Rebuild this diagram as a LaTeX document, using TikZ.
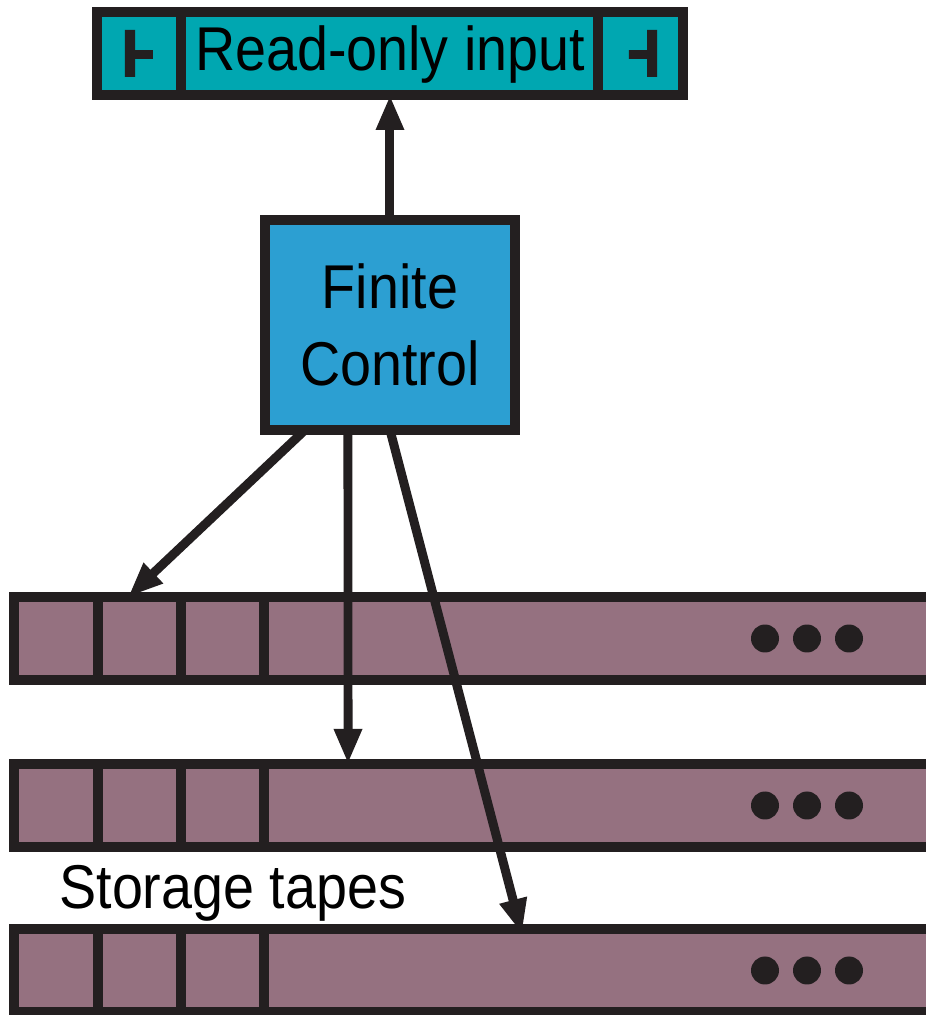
\documentclass[tikz,border=0pt]{standalone}
\usepackage{fontspec}
\setmainfont{Liberation Sans}[FakeStretch=0.9]
\usetikzlibrary{arrows.meta,calc}

\definecolor{inkblack}{HTML}{231F20}
\definecolor{inputteal}{HTML}{00A7B1}
\definecolor{controlblue}{HTML}{2C9FD2}
\definecolor{tapemauve}{HTML}{957180}

\tikzset{
    box/.style={draw=inkblack,line width=0.1cm,inner sep=0pt,outer sep=0pt},
    tapebox/.style={box,fill=tapemauve,minimum width=9.26cm,minimum height=0.83cm},
    cellline/.style={inkblack,line width=0.1cm},
    head/.style={draw=inkblack,line width=0.09cm,-{Triangle[length=0.35cm,width=0.26cm]}},
}

\begin{document}
\begin{tikzpicture}[font=\fontsize{17.6}{22}\selectfont]
                \useasboundingbox (0,0) rectangle (9.26,10.15);
                %% input tape with end markers
                \node[box,fill=inputteal,minimum width=5.86cm,minimum height=0.83cm,text depth=0.1cm] (input) at (3.90,9.615) {Read-only input};
                \draw[cellline] ($(input.south west)+(0.84,0)$) -- ($(input.north west)+(0.84,0)$);
                \draw[cellline] ($(input.south east)+(-0.85,0)$) -- ($(input.north east)+(-0.85,0)$);
                \fill[inkblack] (1.25,9.38) rectangle (1.35,9.85) (1.35,9.56) rectangle (1.53,9.65);
                \fill[inkblack] (6.47,9.38) rectangle (6.57,9.85) (6.29,9.56) rectangle (6.47,9.65);
                %% finite control
                \node[box,fill=controlblue,minimum width=2.5cm,minimum height=2.1cm,align=center] (fc) at (3.90,6.90) {Finite\\Control};
                %% storage tapes
                \node[tapebox] (t1) at (4.77,3.765) {};
                \node[tapebox] (t2) at (4.77,2.095) {};
                \node[tapebox] (t3) at (4.77,0.445) {};
                \foreach \t in {t1,t2,t3} {
                    \foreach \x in {0.84,1.67,2.50}
                        \draw[cellline] ($(\t.south west)+(\x,0)$) -- ($(\t.north west)+(\x,0)$);
                    \foreach \x in {7.51,7.93,8.35}
                        \fill[inkblack] ($(\t.west)+(\x,0)$) circle (0.14);
                }
                \node[anchor=base west] (label) at (0.47,1.07) {Storage tapes};
                %% heads
                \draw[head] (fc) -- (input);
                \draw[head] ($(fc.south)+(-0.85,0)$) -- ($(t1.north west)+(1.14,0)$);
                \draw[head] ($(fc.south)+(-0.42,0)$) -- ($(t2.north west)+(3.34,0)$);
                \draw[head] (fc.south) -- ($(t3.north west)+(5.08,-0.05)$);
\end{tikzpicture}
\end{document}
